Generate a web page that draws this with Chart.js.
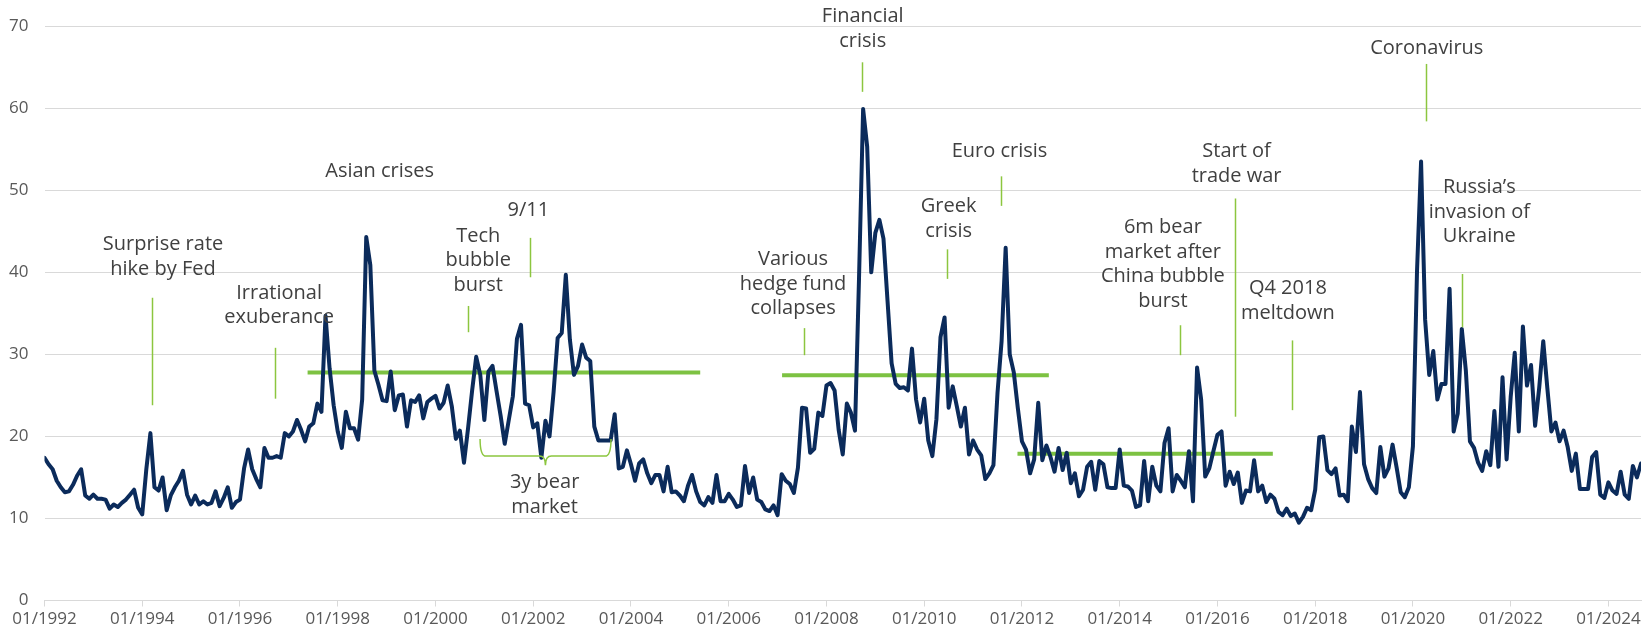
<!DOCTYPE html>
<html>
<head>
<meta charset="utf-8">
<script src="https://cdn.jsdelivr.net/npm/chart.js@4.4.1/dist/chart.umd.min.js"></script>
<style>
  html, body { margin: 0; padding: 0; background: #ffffff; }
  #wrap { width: 1646px; height: 641px; position: relative; }
</style>
</head>
<body>
<div id="wrap"><canvas id="vix"></canvas></div>
<script>
// VIX index, month-end close, January 1992 onwards
const vix1990s = [
  17.4, 16.6, 16.0, 14.6, 13.8, 13.2, 13.3, 14.1, 15.2, 16.0, 12.8, 12.4,
  12.9, 12.4, 12.4, 12.3, 11.2, 11.7, 11.4, 11.9, 12.3, 12.9, 13.5, 11.3,
  10.5, 16.0, 20.4, 13.8, 13.4, 15.0, 11.0, 12.8, 13.8, 14.6, 15.8, 12.9,
  11.7, 12.8, 11.7, 12.1, 11.7, 11.9, 13.3, 11.5, 12.5, 13.8, 11.3, 12.0,
  12.3, 16.1, 18.4, 16.0, 14.8, 13.8, 18.6, 17.4, 17.4, 17.6, 17.4, 20.4,
  20.0, 20.6, 22.0, 20.8, 19.4, 21.2, 21.6, 24.0, 23.0, 34.7, 28.3, 23.8,
  20.6, 18.6, 23.0, 21.0, 21.0, 19.6, 24.5, 44.3, 40.9, 28.0, 26.3, 24.4,
  24.3, 27.9, 23.2, 25.0, 25.1, 21.2, 24.4, 24.2, 25.0, 22.2, 24.2, 24.6
];
const vix2000s = [
  24.95, 23.4, 24.1, 26.2, 23.7, 19.7, 20.7, 16.8, 21.0, 25.6, 29.7, 27.5,
  22.0, 27.9, 28.6, 25.5, 22.5, 19.1, 22.0, 24.9, 31.9, 33.6, 24.0, 23.8,
  21.1, 21.6, 17.4, 21.9, 20.0, 25.4, 32.0, 32.6, 39.7, 31.8, 27.5, 28.6,
  31.2, 29.6, 29.2, 21.2, 19.5, 19.5, 19.5, 19.5, 22.7, 16.1, 16.3, 18.3,
  16.6, 14.6, 16.7, 17.2, 15.5, 14.3, 15.3, 15.3, 13.3, 16.3, 13.2, 13.3,
  12.8, 12.1, 14.0, 15.3, 13.3, 12.0, 11.6, 12.6, 11.9, 15.3, 12.1, 12.1,
  13.0, 12.3, 11.4, 11.6, 16.4, 13.1, 15.0, 12.3, 12.0, 11.1, 10.9, 11.6,
  10.4, 15.4, 14.6, 14.2, 13.1, 16.2, 23.5, 23.4, 18.0, 18.5, 22.9, 22.5,
  26.2, 26.5, 25.6, 20.8, 17.8, 24.0, 22.9, 20.7, 39.4, 59.9, 55.3, 40.0,
  44.8, 46.4, 44.1, 36.5, 28.9, 26.4, 25.9, 26.0, 25.6, 30.7, 24.5, 21.7
];
const vix2010s = [
  24.6, 19.5, 17.6, 22.1, 32.1, 34.5, 23.5, 26.1, 23.7, 21.2, 23.5, 17.8,
  19.5, 18.4, 17.7, 14.8, 15.5, 16.5, 25.3, 31.6, 43.0, 30.0, 27.8, 23.4,
  19.4, 18.4, 15.5, 17.2, 24.1, 17.1, 18.9, 17.5, 15.7, 18.6, 15.9, 18.0,
  14.3, 15.5, 12.7, 13.5, 16.3, 16.9, 13.5, 17.0, 16.6, 13.8, 13.7, 13.7,
  18.4, 14.0, 13.9, 13.4, 11.4, 11.6, 17.0, 12.1, 16.3, 14.0, 13.3, 19.2,
  21.0, 13.3, 15.3, 14.6, 13.8, 18.2, 12.1, 28.4, 24.5, 15.1, 16.1, 18.2,
  20.2, 20.6, 14.0, 15.7, 14.2, 15.6, 11.9, 13.4, 13.3, 17.1, 13.3, 14.0,
  12.0, 12.9, 12.4, 10.8, 10.4, 11.2, 10.3, 10.6, 9.5, 10.2, 11.3, 11.0,
  13.5, 19.9, 20.0, 15.9, 15.4, 16.1, 12.8, 12.9, 12.1, 21.2, 18.1, 25.4,
  16.6, 14.8, 13.7, 13.1, 18.7, 15.1, 16.1, 19.0, 16.2, 13.2, 12.6, 13.8
];
const vix2020s = [
  18.8, 40.1, 53.5, 34.2, 27.5, 30.4, 24.5, 26.4, 26.4, 38.0, 20.6, 22.8,
  33.1, 28.0, 19.4, 18.6, 16.8, 15.8, 18.2, 16.5, 23.1, 16.3, 27.2, 17.2,
  24.8, 30.2, 20.6, 33.4, 26.2, 28.7, 21.3, 25.9, 31.6, 25.9, 20.6, 21.7,
  19.4, 20.7, 18.7, 15.8, 17.9, 13.6, 13.6, 13.6, 17.5, 18.1, 12.9, 12.5,
  14.4, 13.4, 13.0, 15.7, 12.9, 12.4, 16.4, 15.0, 16.7
];
const vix = [...vix1990s, ...vix2000s, ...vix2010s, ...vix2020s];

// x-axis labels, one every 24 months
const tickLabels = [
  '01/1992', '01/1994', '01/1996', '01/1998', '01/2000', '01/2002',
  '01/2004', '01/2006', '01/2008', '01/2010', '01/2012', '01/2014',
  '01/2016', '01/2018', '01/2020', '01/2022', '01/2024'
];
const yTicks = [0, 10, 20, 30, 40, 50, 60, 70];

// Average-level bands: month index range and level
const bandStart = [64.6, 181.1, 238.9];
const bandEnd   = [161.0, 246.6, 301.6];
const bandLevel = [27.8, 27.45, 17.9];

// Event notes: text lines, anchor month and level of the first line
const noteText = [
  ['Surprise rate', 'hike by Fed'],
  ['Irrational', 'exuberance'],
  ['Asian crises'],
  ['Tech', 'bubble', 'burst'],
  ['9/11'],
  ['Various', 'hedge fund', 'collapses'],
  ['Financial', 'crisis'],
  ['Greek', 'crisis'],
  ['Euro crisis'],
  ['6m bear', 'market after', 'China bubble', 'burst'],
  ['Start of', 'trade war'],
  ['Q4 2018', 'meltdown'],
  ['Coronavirus'],
  ['Russia\u2019s', 'invasion of', 'Ukraine'],
  ['3y bear', 'market']
];
const noteMonth = [29.1, 57.6, 82.3, 106.5, 118.8, 183.8, 200.9, 222.0, 234.5, 274.6, 292.7, 305.3, 339.4, 352.3, 122.8];
const noteLevel = [43.4, 37.5, 52.3, 44.4, 47.5, 41.55, 71.2, 48.0, 54.8, 45.45, 54.7, 38.0, 67.25, 50.35, 14.35];

// Leader ticks under the notes: month, upper and lower level
const leaderMonth = [26.5, 56.5, 104.1, 119.2, 186.6, 200.8, 221.6, 234.8, 278.7, 292.4, 306.2, 339.2, 348.0];
const leaderTop   = [36.9, 30.8, 35.9, 44.2, 33.2, 65.6, 42.8, 51.7, 33.55, 49.0, 31.7, 65.4, 39.8];
const leaderBot   = [23.8, 24.6, 32.7, 39.4, 29.9, 62.0, 39.2, 48.1, 29.9, 22.4, 23.2, 58.4, 33.3];

// Brace spanning the 2000-2003 bear market
const braceMonths = [106.95, 123.0, 139.1];
const braceLevels = [19.7, 17.6, 16.5];

const NAVY = '#0b2b5b';
const GREEN = '#7dc242';
const LEADER = '#8cc63f';
const TEXT = '#404040';
const AXIS_TEXT = '#595959';
const GRID = '#d9d9d9';

const bandSets = bandLevel.map((lv, i) => ({
  data: [{ x: bandStart[i], y: lv }, { x: bandEnd[i], y: lv }],
  borderColor: GREEN,
  borderWidth: 4,
  borderCapStyle: 'butt',
  pointRadius: 0,
  tension: 0
}));

const notesPlugin = {
  id: 'eventNotes',
  afterDatasetsDraw(chart) {
    const { ctx, scales: { x, y } } = chart;
    ctx.save();
    // leader ticks
    ctx.strokeStyle = LEADER;
    ctx.lineWidth = 1.5;
    leaderMonth.forEach((m, i) => {
      const px = Math.round(x.getPixelForValue(m)) + 0.5;
      ctx.beginPath();
      ctx.moveTo(px, y.getPixelForValue(leaderTop[i]));
      ctx.lineTo(px, y.getPixelForValue(leaderBot[i]));
      ctx.stroke();
    });
    // brace
    const bx0 = x.getPixelForValue(braceMonths[0]);
    const bxm = x.getPixelForValue(braceMonths[1]);
    const bx1 = x.getPixelForValue(braceMonths[2]);
    const byT = y.getPixelForValue(braceLevels[0]);
    const byM = y.getPixelForValue(braceLevels[1]);
    const byL = y.getPixelForValue(braceLevels[2]);
    const r = 6;
    ctx.beginPath();
    ctx.moveTo(bx0, byT);
    ctx.quadraticCurveTo(bx0, byM, bx0 + r, byM);
    ctx.lineTo(bxm - r, byM);
    ctx.quadraticCurveTo(bxm, byM, bxm, byL);
    ctx.quadraticCurveTo(bxm, byM, bxm + r, byM);
    ctx.lineTo(bx1 - r, byM);
    ctx.quadraticCurveTo(bx1, byM, bx1, byT);
    ctx.stroke();
    // texts
    ctx.fillStyle = TEXT;
    ctx.font = '20px "Open Sans"';
    ctx.textAlign = 'center';
    ctx.textBaseline = 'middle';
    const lh = 24.5;
    noteText.forEach((lines, i) => {
      const cx = x.getPixelForValue(noteMonth[i]);
      const cy = y.getPixelForValue(noteLevel[i]);
      lines.forEach((t, j) => ctx.fillText(t, cx, cy + j * lh));
    });
    ctx.restore();
  }
};

new Chart(document.getElementById('vix'), {
  type: 'line',
  data: {
    datasets: [
      {
        data: vix.map((v, i) => ({ x: i, y: v })),
        borderColor: NAVY,
        borderWidth: 4,
        borderJoinStyle: 'round',
        borderCapStyle: 'round',
        pointRadius: 0,
        tension: 0
      },
      ...bandSets
    ]
  },
  options: {
    responsive: true,
    maintainAspectRatio: false,
    animation: false,
    devicePixelRatio: 1,
    layout: { padding: { top: 19.5, right: 5, bottom: 0, left: 0 } },
    plugins: { legend: { display: false }, tooltip: { enabled: false } },
    scales: {
      x: {
        type: 'linear',
        min: 0,
        max: vix.length - 1,
        afterFit(s) { s.height = 40.5; },
        afterBuildTicks(s) { s.ticks = tickLabels.map((_, i) => ({ value: i * 24 })); },
        grid: { drawOnChartArea: false, drawTicks: true, tickLength: 6, color: GRID },
        border: { display: true, color: GRID },
        ticks: {
          autoSkip: false,
          maxRotation: 0,
          padding: 2,
          color: AXIS_TEXT,
          font: { family: '"Open Sans"', size: 17 },
          callback: (v) => tickLabels[Math.round(v / 24)]
        }
      },
      y: {
        min: 0,
        max: 70,
        afterFit(s) { s.width = 44.5; },
        afterBuildTicks(s) { s.ticks = yTicks.map(v => ({ value: v })); },
        grid: { drawTicks: false, color: GRID },
        border: { display: false },
        ticks: {
          padding: 16,
          color: AXIS_TEXT,
          font: { family: '"Open Sans"', size: 17 }
        }
      }
    }
  },
  plugins: [notesPlugin]
});
</script>
</body>
</html>
